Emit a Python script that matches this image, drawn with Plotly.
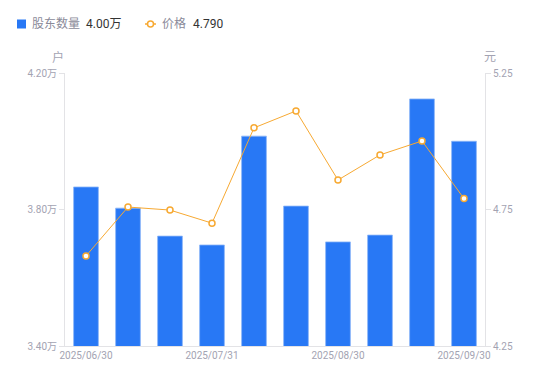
import plotly.graph_objects as go

dates = ["2025/06/30", "2025/07/10", "2025/07/20", "2025/07/31", "2025/08/10",
         "2025/08/20", "2025/08/30", "2025/09/10", "2025/09/20", "2025/09/30"]
holders = [3.866, 3.804, 3.722, 3.696, 4.015, 3.810, 3.705, 3.725, 4.124, 4.000]  # 万户
price = [4.580, 4.759, 4.748, 4.700, 5.049, 5.111, 4.858, 4.950, 5.001, 4.790]
tick_dates = ["2025/06/30", "2025/07/31", "2025/08/30", "2025/09/30"]
left_ticks = [3.40, 3.80, 4.20]
right_ticks = [4.25, 4.75, 5.25]

BLUE = "#2878F5"
ORANGE = "#F7A932"
GRID = "#E3E3E6"
LABEL = "#A3A3B2"
FONT = "Roboto, 'Noto Sans CJK SC', sans-serif"

fig = go.Figure()
fig.add_trace(go.Bar(x=dates, y=holders, marker=dict(color=BLUE, line=dict(color="#8DB6F8", width=0.8)),
                     name="股东数量", yaxis="y"))
fig.add_trace(go.Scatter(x=dates, y=price, mode="lines+markers", name="价格", yaxis="y2",
                         line=dict(color=ORANGE, width=1),
                         marker=dict(symbol="circle", size=6, color="white",
                                     line=dict(color=ORANGE, width=1.5))))

L, R, T, B = 65, 65, 73, 35
W, H = 550, 381
pw, ph = W - L - R, H - T - B


def px(x):
    return (x - L) / pw


def py(y):
    return (H - B - y) / ph


fig.update_layout(
    width=W, height=H,
    margin=dict(l=L, r=R, t=T, b=B),
    plot_bgcolor="white", paper_bgcolor="white",
    showlegend=False,
    bargap=0.41,
    font=dict(family=FONT, size=10, color=LABEL),
    xaxis=dict(type="category", tickmode="array", tickvals=tick_dates, ticktext=tick_dates,
               range=[-0.5, len(dates) - 0.5],
               showgrid=False, showline=True, linecolor=GRID, linewidth=1, ticks="",
               tickfont=dict(size=10, color=LABEL), zeroline=False),
    yaxis=dict(range=[3.40, 4.20], tickvals=left_ticks,
               ticktext=[f"{v:.2f}万" for v in left_ticks],
               showgrid=False, showline=True, linecolor=GRID, linewidth=1,
               ticks="outside", ticklen=5, tickcolor=GRID, zeroline=False,
               tickfont=dict(size=10, color=LABEL)),
    yaxis2=dict(range=[4.25, 5.25], tickvals=right_ticks,
                ticktext=[f"{v:.2f}" for v in right_ticks],
                overlaying="y", side="right",
                showgrid=False, showline=True, linecolor=GRID, linewidth=1,
                ticks="outside", ticklen=5, tickcolor=GRID, zeroline=False,
                tickfont=dict(size=10, color=LABEL)),
)

# axis unit titles
fig.add_annotation(text="户", xref="paper", yref="paper", x=px(58), y=py(57),
                   showarrow=False, font=dict(size=12, color=LABEL), xanchor="center", yanchor="middle")
fig.add_annotation(text="元", xref="paper", yref="paper", x=px(490), y=py(57),
                   showarrow=False, font=dict(size=12, color=LABEL), xanchor="center", yanchor="middle")

# custom legend
fig.add_shape(type="rect", xref="paper", yref="paper", x0=px(17), x1=px(26), y0=py(28.5), y1=py(19.5),
              fillcolor=BLUE, line=dict(width=0))
fig.add_annotation(text="股东数量", xref="paper", yref="paper", x=px(30), y=py(24), xanchor="left",
                   yanchor="middle", showarrow=False, font=dict(size=12, color="#8A8A99"))
fig.add_annotation(text=f"{holders[-1]:.2f}万", xref="paper", yref="paper", x=px(84), y=py(24),
                   xanchor="left", yanchor="middle", showarrow=False, font=dict(size=12, color="#333333"))
fig.add_shape(type="line", xref="paper", yref="paper", x0=px(145), x1=px(156), y0=py(24), y1=py(24),
              line=dict(color=ORANGE, width=1.5))
fig.add_shape(type="circle", xref="paper", yref="paper", x0=px(147.5), x1=px(153.5), y0=py(27), y1=py(21),
              fillcolor="white", line=dict(color=ORANGE, width=1.5))
fig.add_annotation(text="价格", xref="paper", yref="paper", x=px(160), y=py(24), xanchor="left",
                   yanchor="middle", showarrow=False, font=dict(size=12, color="#8A8A99"))
fig.add_annotation(text=f"{price[-1]:.3f}", xref="paper", yref="paper", x=px(191), y=py(24),
                   xanchor="left", yanchor="middle", showarrow=False, font=dict(size=12, color="#333333"))

fig.write_html("out.html", config={"displayModeBar": False},
               post_script="document.body.style.margin='0';document.body.style.overflow='hidden';")
